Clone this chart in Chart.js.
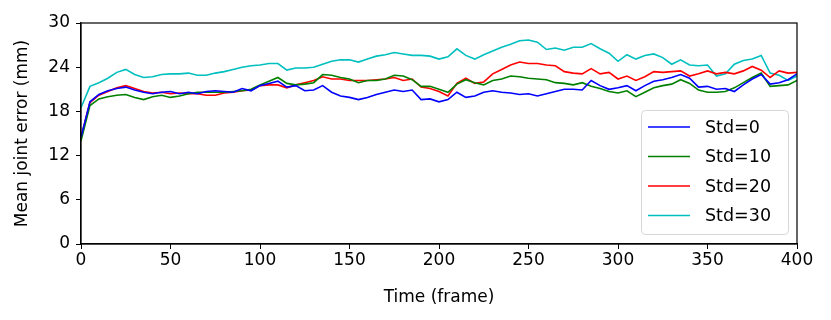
<!DOCTYPE html>
<html>
<head>
<meta charset="utf-8">
<script src="https://cdn.jsdelivr.net/npm/chart.js@4.4.1/dist/chart.umd.min.js"></script>
<style>
  html, body { margin: 0; padding: 0; background: #fff; }
  #wrap { width: 831px; height: 320px; position: relative; }
</style>
</head>
<body>
<div id="wrap"><canvas id="errorChart"></canvas></div>
<script>
const frames = [0, 5, 10, 15, 20, 25, 30, 35, 40, 45, 50, 55, 60, 65, 70, 75, 80, 85, 90, 95,
    100, 105, 110, 115, 120, 125, 130, 135, 140, 145, 150, 155, 160, 165, 170, 175, 180, 185, 190, 195,
    200, 205, 210, 215, 220, 225, 230, 235, 240, 245, 250, 255, 260, 265, 270, 275, 280, 285, 290, 295,
    300, 305, 310, 315, 320, 325, 330, 335, 340, 345, 350, 355, 360, 365, 370, 375, 380, 385, 390, 395, 400];

const std0 = [14.5, 19.3, 20.3, 20.8, 21.1, 21.3, 20.9, 20.6, 20.4, 20.6, 20.7, 20.4, 20.6, 20.4, 20.7, 20.8, 20.7, 20.6, 21.1, 20.8,
    21.5, 21.8, 22.1, 21.3, 21.5, 20.8, 20.9, 21.5, 20.6, 20.1, 19.9, 19.6, 19.9, 20.3, 20.6, 20.9, 20.7, 20.9, 19.6, 19.7,
    19.3, 19.6, 20.6, 19.9, 20.1, 20.6, 20.8, 20.6, 20.5, 20.3, 20.4, 20.1, 20.4, 20.7, 21.0, 21.0, 20.9, 22.2, 21.5, 21.0,
    21.2, 21.5, 20.8, 21.5, 22.1, 22.3, 22.6, 23.0, 22.5, 21.3, 21.4, 21.0, 21.1, 20.7, 21.6, 22.4, 23.0, 21.7, 21.9, 22.3, 23.1];

const std10 = [14.0, 18.8, 19.7, 20.0, 20.2, 20.3, 19.9, 19.6, 20.0, 20.2, 19.9, 20.1, 20.4, 20.6, 20.6, 20.6, 20.6, 20.7, 20.8, 21.0,
    21.6, 22.1, 22.6, 21.8, 21.6, 21.7, 21.9, 23.0, 22.9, 22.6, 22.4, 21.9, 22.2, 22.2, 22.4, 22.9, 22.8, 22.3, 21.4, 21.4,
    21.0, 20.6, 21.7, 22.3, 21.9, 21.6, 22.2, 22.4, 22.8, 22.7, 22.5, 22.4, 22.3, 21.9, 21.8, 21.6, 21.9, 21.4, 21.1, 20.7,
    20.5, 20.8, 20.0, 20.6, 21.2, 21.5, 21.7, 22.3, 21.8, 20.9, 20.6, 20.6, 20.7, 21.2, 21.9, 22.6, 23.2, 21.4, 21.5, 21.6, 22.2];

const std20 = [14.5, 19.2, 20.2, 20.7, 21.2, 21.5, 21.1, 20.7, 20.5, 20.6, 20.4, 20.5, 20.4, 20.4, 20.2, 20.2, 20.5, 20.6, 20.8, 20.9,
    21.5, 21.6, 21.6, 21.2, 21.6, 21.9, 22.2, 22.7, 22.4, 22.4, 22.2, 22.2, 22.2, 22.3, 22.4, 22.6, 22.2, 22.4, 21.3, 21.1,
    20.7, 20.1, 21.8, 22.5, 21.8, 22.0, 23.1, 23.7, 24.3, 24.7, 24.5, 24.5, 24.3, 24.2, 23.4, 23.2, 23.1, 23.8, 23.1, 23.3,
    22.4, 22.8, 22.2, 22.7, 23.4, 23.3, 23.4, 23.5, 22.8, 23.1, 23.5, 23.1, 23.3, 23.1, 23.5, 24.1, 23.6, 22.6, 23.5, 23.2, 23.3];

const std30 = [18.5, 21.4, 21.9, 22.5, 23.3, 23.7, 23.0, 22.6, 22.7, 23.0, 23.1, 23.1, 23.2, 22.9, 22.9, 23.2, 23.4, 23.7, 24.0, 24.2,
    24.3, 24.5, 24.5, 23.6, 23.9, 23.9, 24.0, 24.4, 24.8, 25.0, 25.0, 24.7, 25.1, 25.5, 25.7, 26.0, 25.8, 25.6, 25.6, 25.5,
    25.1, 25.4, 26.5, 25.6, 25.1, 25.7, 26.2, 26.7, 27.1, 27.6, 27.7, 27.4, 26.4, 26.6, 26.3, 26.7, 26.7, 27.2, 26.5, 25.9,
    24.8, 25.7, 25.1, 25.6, 25.8, 25.3, 24.4, 25.0, 24.3, 24.2, 24.3, 22.8, 23.1, 24.4, 24.9, 25.1, 25.6, 23.2, 22.9, 22.2, 22.8];

const seriesLabels = ['Std=0', 'Std=10', 'Std=20', 'Std=30'];
const seriesColors = ['#0000ff', '#008000', '#ff0000', '#00bfbf'];

const FONT = "'DejaVu Sans', sans-serif";
const FONT_SIZE = 17;

function toPoints(values) {
    return frames.map((f, i) => ({ x: f, y: values[i] }));
}

// black box around the plot area, like matplotlib spines
const frameBox = {
    id: 'frameBox',
    afterDraw(chart) {
        const { ctx, chartArea: a } = chart;
        ctx.save();
        ctx.strokeStyle = '#000';
        ctx.lineWidth = 1.2;
        ctx.strokeRect(a.left, a.top, a.right - a.left, a.bottom - a.top);
        ctx.restore();
    }
};

// legend box in the lower right corner of the plot
const insideLegend = {
    id: 'insideLegend',
    afterDatasetsDraw(chart) {
        const { ctx, chartArea: a } = chart;
        const w = 147, h = 124;
        const x = a.right - 9 - w;
        const y = a.bottom - 10 - h;
        ctx.save();
        ctx.fillStyle = 'rgba(255,255,255,0.85)';
        ctx.strokeStyle = '#d6d6d6';
        ctx.lineWidth = 1;
        ctx.beginPath();
        ctx.roundRect(x + 0.5, y + 0.5, w, h, 4);
        ctx.fill();
        ctx.stroke();
        ctx.font = '17.5px ' + FONT;
        ctx.textBaseline = 'middle';
        ctx.fillStyle = '#000';
        chart.data.datasets.forEach((ds, i) => {
            const rowY = y + 17 + i * 29.5;
            ctx.strokeStyle = ds.borderColor;
            ctx.lineWidth = 1.6;
            ctx.beginPath();
            ctx.moveTo(x + 7, rowY);
            ctx.lineTo(x + 49, rowY);
            ctx.stroke();
            ctx.fillText(ds.label, x + 64, rowY + 1);
        });
        ctx.restore();
    }
};

new Chart(document.getElementById('errorChart'), {
    type: 'line',
    data: {
        datasets: seriesLabels.map((label, i) => ({
            label: label,
            data: toPoints([std0, std10, std20, std30][i]),
            borderColor: seriesColors[i],
            backgroundColor: seriesColors[i],
            borderWidth: 1.6,
            pointRadius: 0,
            tension: 0
        }))
    },
    options: {
        responsive: true,
        maintainAspectRatio: false,
        animation: false,
        layout: { padding: { left: 0, right: 34, top: 23, bottom: 0 } },
        plugins: {
            legend: { display: false },
            tooltip: { enabled: false }
        },
        scales: {
            x: {
                type: 'linear',
                min: 0,
                max: 400,
                ticks: { stepSize: 50, color: '#000', padding: 1, maxRotation: 0, font: { family: FONT, size: FONT_SIZE } },
                grid: { display: true, drawOnChartArea: false, drawTicks: true, tickLength: 5, color: '#000' },
                border: { display: true, color: '#000', width: 1.2 },
                title: { display: true, text: 'Time (frame)', color: '#000', font: { family: FONT, size: FONT_SIZE }, padding: { top: 2, bottom: 12 } },
                afterFit(scale) { scale.height = 76; }
            },
            y: {
                min: 0,
                max: 30,
                ticks: { stepSize: 6, color: '#000', padding: 6, font: { family: FONT, size: FONT_SIZE } },
                grid: { display: true, drawOnChartArea: false, drawTicks: true, tickLength: 5, color: '#000' },
                border: { display: true, color: '#000', width: 1.2 },
                title: { display: true, text: 'Mean joint error (mm)', color: '#000', font: { family: FONT, size: FONT_SIZE }, padding: { top: 12, bottom: 4 } },
                afterFit(scale) { scale.width = 81; }
            }
        }
    },
    plugins: [frameBox, insideLegend]
});
</script>
</body>
</html>
